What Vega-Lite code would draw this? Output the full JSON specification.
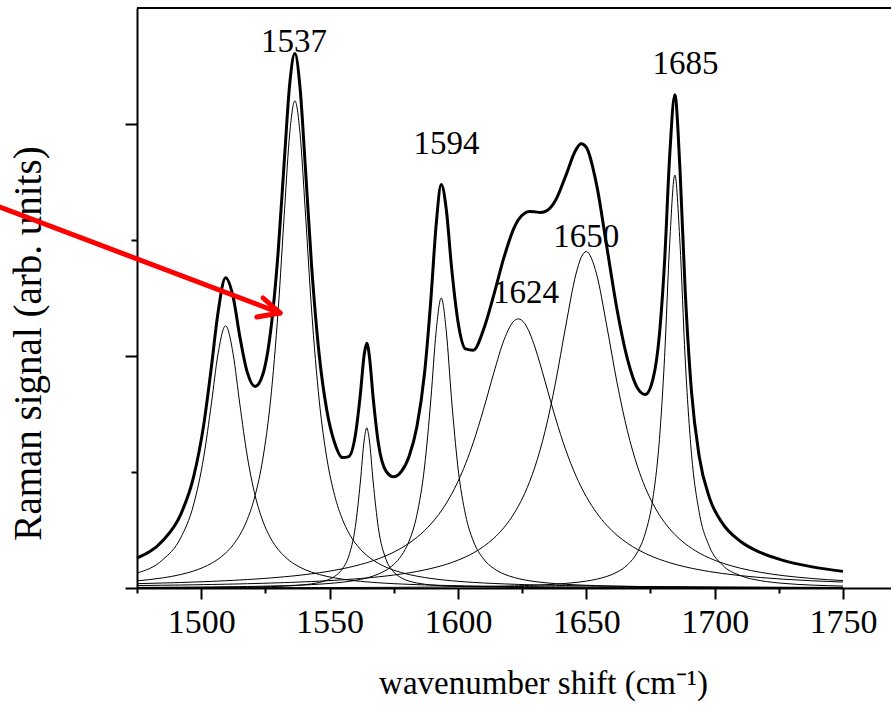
{
  "$schema": "https://vega.github.io/schema/vega-lite/v6.json",
  "width": 754,
  "height": 580,
  "autosize": {"type": "none"},
  "padding": {"left": 137, "top": 8, "right": 0, "bottom": 118},
  "background": "white",
  "config": {"view": {"stroke": null}, "font": "Liberation Serif"},
  "datasets": {
    "spec": [
      {"x": 1475, "c1": 0.1293, "c2": 0.0615, "c3": 0.0021, "c4": 0.0054, "c5": 0.0374, "c6": 0.0212, "c7": 0.0016, "t": 0.2585},
      {"x": 1485, "c1": 0.2428, "c2": 0.0872, "c3": 0.0027, "c4": 0.0064, "c5": 0.0429, "c6": 0.0238, "c7": 0.0018, "t": 0.4076},
      {"x": 1492, "c1": 0.4314, "c2": 0.116, "c3": 0.0032, "c4": 0.0073, "c5": 0.0474, "c6": 0.0259, "c7": 0.0019, "t": 0.6331},
      {"x": 1497, "c1": 0.7147, "c2": 0.1461, "c3": 0.0037, "c4": 0.0081, "c5": 0.0512, "c6": 0.0276, "c7": 0.002, "t": 0.9534},
      {"x": 1501, "c1": 1.1301, "c2": 0.1795, "c3": 0.0042, "c4": 0.0088, "c5": 0.0545, "c6": 0.0291, "c7": 0.0021, "t": 1.4083},
      {"x": 1504, "c1": 1.5932, "c2": 0.2124, "c3": 0.0046, "c4": 0.0094, "c5": 0.0572, "c6": 0.0303, "c7": 0.0022, "t": 1.9093},
      {"x": 1506.5, "c1": 2.0098, "c2": 0.2471, "c3": 0.005, "c4": 0.01, "c5": 0.0596, "c6": 0.0313, "c7": 0.0023, "t": 2.3651},
      {"x": 1509.5, "c1": 2.2602, "c2": 0.3009, "c3": 0.0056, "c4": 0.0107, "c5": 0.0627, "c6": 0.0327, "c7": 0.0024, "t": 2.6752},
      {"x": 1512.5, "c1": 2.0098, "c2": 0.3737, "c3": 0.0062, "c4": 0.0115, "c5": 0.066, "c6": 0.0341, "c7": 0.0024, "t": 2.5037},
      {"x": 1515, "c1": 1.5932, "c2": 0.4556, "c3": 0.0069, "c4": 0.0122, "c5": 0.069, "c6": 0.0354, "c7": 0.0025, "t": 2.1748},
      {"x": 1518, "c1": 1.1301, "c2": 0.5928, "c3": 0.0078, "c4": 0.0132, "c5": 0.0729, "c6": 0.037, "c7": 0.0026, "t": 1.8564},
      {"x": 1521, "c1": 0.7985, "c2": 0.7968, "c3": 0.0089, "c4": 0.0143, "c5": 0.0771, "c6": 0.0387, "c7": 0.0027, "t": 1.737},
      {"x": 1524, "c1": 0.5781, "c2": 1.1118, "c3": 0.0102, "c4": 0.0156, "c5": 0.0816, "c6": 0.0405, "c7": 0.0028, "t": 1.8406},
      {"x": 1527, "c1": 0.4314, "c2": 1.6126, "c3": 0.0119, "c4": 0.017, "c5": 0.0866, "c6": 0.0425, "c7": 0.0029, "t": 2.2049},
      {"x": 1530, "c1": 0.3316, "c2": 2.3985, "c3": 0.0141, "c4": 0.0186, "c5": 0.092, "c6": 0.0446, "c7": 0.003, "t": 2.9024},
      {"x": 1532.5, "c1": 0.2716, "c2": 3.2699, "c3": 0.0163, "c4": 0.0202, "c5": 0.0969, "c6": 0.0465, "c7": 0.0031, "t": 3.7245},
      {"x": 1534.5, "c1": 0.2342, "c2": 3.9212, "c3": 0.0185, "c4": 0.0215, "c5": 0.1011, "c6": 0.0481, "c7": 0.0032, "t": 4.3478},
      {"x": 1536.5, "c1": 0.2038, "c2": 4.2, "c3": 0.0212, "c4": 0.0231, "c5": 0.1056, "c6": 0.0498, "c7": 0.0033, "t": 4.6068},
      {"x": 1538.5, "c1": 0.1788, "c2": 3.9212, "c3": 0.0246, "c4": 0.0248, "c5": 0.1104, "c6": 0.0516, "c7": 0.0034, "t": 4.3148},
      {"x": 1540.5, "c1": 0.158, "c2": 3.2699, "c3": 0.0287, "c4": 0.0266, "c5": 0.1155, "c6": 0.0534, "c7": 0.0035, "t": 3.6556},
      {"x": 1543, "c1": 0.1367, "c2": 2.3985, "c3": 0.0356, "c4": 0.0293, "c5": 0.1224, "c6": 0.0559, "c7": 0.0036, "t": 2.782},
      {"x": 1546, "c1": 0.1163, "c2": 1.6126, "c3": 0.0477, "c4": 0.0331, "c5": 0.1315, "c6": 0.0591, "c7": 0.0038, "t": 2.0041},
      {"x": 1549, "c1": 0.1, "c2": 1.1118, "c3": 0.067, "c4": 0.0376, "c5": 0.1417, "c6": 0.0626, "c7": 0.0039, "t": 1.5246},
      {"x": 1552, "c1": 0.0869, "c2": 0.7968, "c3": 0.1003, "c4": 0.0432, "c5": 0.153, "c6": 0.0664, "c7": 0.0041, "t": 1.2507},
      {"x": 1555, "c1": 0.0762, "c2": 0.5928, "c3": 0.1649, "c4": 0.05, "c5": 0.1657, "c6": 0.0705, "c7": 0.0043, "t": 1.1244},
      {"x": 1557.5, "c1": 0.0687, "c2": 0.4751, "c3": 0.276, "c4": 0.057, "c5": 0.1775, "c6": 0.0743, "c7": 0.0045, "t": 1.1331},
      {"x": 1560, "c1": 0.0623, "c2": 0.3882, "c3": 0.5202, "c4": 0.0656, "c5": 0.1906, "c6": 0.0784, "c7": 0.0046, "t": 1.3099},
      {"x": 1562, "c1": 0.0577, "c2": 0.3344, "c3": 0.9138, "c4": 0.074, "c5": 0.2021, "c6": 0.0819, "c7": 0.0048, "t": 1.6687},
      {"x": 1563.5, "c1": 0.0546, "c2": 0.3009, "c3": 1.2758, "c4": 0.0813, "c5": 0.2114, "c6": 0.0847, "c7": 0.0049, "t": 2.0136},
      {"x": 1564.5, "c1": 0.0527, "c2": 0.2812, "c3": 1.38, "c4": 0.0868, "c5": 0.218, "c6": 0.0866, "c7": 0.005, "t": 2.1103},
      {"x": 1565.5, "c1": 0.0509, "c2": 0.2633, "c3": 1.2758, "c4": 0.0929, "c5": 0.2248, "c6": 0.0886, "c7": 0.0051, "t": 2.0014},
      {"x": 1567, "c1": 0.0483, "c2": 0.2395, "c3": 0.9138, "c4": 0.1032, "c5": 0.2357, "c6": 0.0917, "c7": 0.0052, "t": 1.6374},
      {"x": 1569, "c1": 0.0452, "c2": 0.2124, "c3": 0.5202, "c4": 0.1199, "c5": 0.2514, "c6": 0.0962, "c7": 0.0054, "t": 1.2507},
      {"x": 1572, "c1": 0.041, "c2": 0.1795, "c3": 0.2468, "c4": 0.1536, "c5": 0.278, "c6": 0.1034, "c7": 0.0057, "t": 1.008},
      {"x": 1575, "c1": 0.0374, "c2": 0.1536, "c3": 0.138, "c4": 0.203, "c5": 0.3087, "c6": 0.1115, "c7": 0.006, "t": 0.9582},
      {"x": 1578, "c1": 0.0343, "c2": 0.1328, "c3": 0.0869, "c4": 0.2796, "c5": 0.3445, "c6": 0.1206, "c7": 0.0063, "t": 1.005},
      {"x": 1581, "c1": 0.0315, "c2": 0.116, "c3": 0.0594, "c4": 0.4055, "c5": 0.3865, "c6": 0.1309, "c7": 0.0067, "t": 1.1365},
      {"x": 1584, "c1": 0.029, "c2": 0.1022, "c3": 0.0431, "c4": 0.6276, "c5": 0.436, "c6": 0.1424, "c7": 0.0071, "t": 1.3874},
      {"x": 1587, "c1": 0.0269, "c2": 0.0906, "c3": 0.0326, "c4": 1.0431, "c5": 0.4947, "c6": 0.1556, "c7": 0.0076, "t": 1.8511},
      {"x": 1589.5, "c1": 0.0252, "c2": 0.0825, "c3": 0.0265, "c4": 1.6351, "c5": 0.5521, "c6": 0.168, "c7": 0.008, "t": 2.4974},
      {"x": 1591.5, "c1": 0.024, "c2": 0.0767, "c3": 0.0228, "c4": 2.208, "c5": 0.6047, "c6": 0.1789, "c7": 0.0083, "t": 3.1234},
      {"x": 1593.5, "c1": 0.0229, "c2": 0.0715, "c3": 0.0198, "c4": 2.5, "c5": 0.6642, "c6": 0.191, "c7": 0.0087, "t": 3.4781},
      {"x": 1595.5, "c1": 0.0219, "c2": 0.0668, "c3": 0.0174, "c4": 2.208, "c5": 0.7314, "c6": 0.2042, "c7": 0.0091, "t": 3.2588},
      {"x": 1597.5, "c1": 0.0209, "c2": 0.0625, "c3": 0.0154, "c4": 1.6351, "c5": 0.8076, "c6": 0.2189, "c7": 0.0095, "t": 2.7699},
      {"x": 1600, "c1": 0.0198, "c2": 0.0578, "c3": 0.0133, "c4": 1.0431, "c5": 0.917, "c6": 0.2394, "c7": 0.0101, "t": 2.3005},
      {"x": 1603, "c1": 0.0185, "c2": 0.0528, "c3": 0.0113, "c4": 0.6276, "c5": 1.072, "c6": 0.2681, "c7": 0.0108, "t": 2.0611},
      {"x": 1606, "c1": 0.0174, "c2": 0.0483, "c3": 0.0097, "c4": 0.4055, "c5": 1.2552, "c6": 0.3019, "c7": 0.0117, "t": 2.0497},
      {"x": 1610, "c1": 0.0161, "c2": 0.0433, "c3": 0.0081, "c4": 0.25, "c5": 1.5417, "c6": 0.3575, "c7": 0.0129, "t": 2.2296},
      {"x": 1614, "c1": 0.0149, "c2": 0.039, "c3": 0.0069, "c4": 0.1679, "c5": 1.856, "c6": 0.429, "c7": 0.0144, "t": 2.5281},
      {"x": 1618, "c1": 0.0138, "c2": 0.0353, "c3": 0.0059, "c4": 0.1199, "c5": 2.1406, "c6": 0.5224, "c7": 0.0162, "t": 2.8541},
      {"x": 1622, "c1": 0.0128, "c2": 0.0321, "c3": 0.0051, "c4": 0.0898, "c5": 2.3056, "c6": 0.6467, "c7": 0.0184, "t": 3.1105},
      {"x": 1623.5, "c1": 0.0125, "c2": 0.031, "c3": 0.0048, "c4": 0.0813, "c5": 2.3199, "c6": 0.7037, "c7": 0.0193, "t": 3.1725},
      {"x": 1626, "c1": 0.012, "c2": 0.0293, "c3": 0.0045, "c4": 0.0696, "c5": 2.2805, "c6": 0.8146, "c7": 0.0209, "t": 3.2314},
      {"x": 1628, "c1": 0.0116, "c2": 0.028, "c3": 0.0042, "c4": 0.062, "c5": 2.1967, "c6": 0.9203, "c7": 0.0224, "t": 3.2452},
      {"x": 1630, "c1": 0.0112, "c2": 0.0269, "c3": 0.0039, "c4": 0.0555, "c5": 2.0769, "c6": 1.044, "c7": 0.0241, "t": 3.2425},
      {"x": 1632, "c1": 0.0108, "c2": 0.0257, "c3": 0.0037, "c4": 0.05, "c5": 1.9331, "c6": 1.1885, "c7": 0.026, "t": 3.2378},
      {"x": 1634, "c1": 0.0105, "c2": 0.0247, "c3": 0.0035, "c4": 0.0453, "c5": 1.7772, "c6": 1.3565, "c7": 0.0281, "t": 3.2458},
      {"x": 1638, "c1": 0.0098, "c2": 0.0228, "c3": 0.0031, "c4": 0.0376, "c5": 1.4661, "c6": 1.7683, "c7": 0.033, "t": 3.3407},
      {"x": 1642, "c1": 0.0093, "c2": 0.0211, "c3": 0.0028, "c4": 0.0317, "c5": 1.1909, "c6": 2.2578, "c7": 0.0395, "t": 3.5531},
      {"x": 1646, "c1": 0.0087, "c2": 0.0196, "c3": 0.0025, "c4": 0.0271, "c5": 0.9657, "c6": 2.7075, "c7": 0.048, "t": 3.7791},
      {"x": 1648, "c1": 0.0085, "c2": 0.0189, "c3": 0.0024, "c4": 0.0252, "c5": 0.8713, "c6": 2.8493, "c7": 0.0533, "t": 3.8289},
      {"x": 1650, "c1": 0.0082, "c2": 0.0183, "c3": 0.0023, "c4": 0.0235, "c5": 0.7877, "c6": 2.9, "c7": 0.0596, "t": 3.7996},
      {"x": 1654, "c1": 0.0078, "c2": 0.017, "c3": 0.0021, "c4": 0.0205, "c5": 0.6486, "c6": 2.7075, "c7": 0.0758, "t": 3.4793},
      {"x": 1658, "c1": 0.0074, "c2": 0.0159, "c3": 0.0019, "c4": 0.018, "c5": 0.5399, "c6": 2.2578, "c7": 0.0998, "t": 2.9407},
      {"x": 1662, "c1": 0.007, "c2": 0.0149, "c3": 0.0018, "c4": 0.016, "c5": 0.4544, "c6": 1.7683, "c7": 0.1369, "t": 2.3993},
      {"x": 1666, "c1": 0.0066, "c2": 0.014, "c3": 0.0016, "c4": 0.0143, "c5": 0.3865, "c6": 1.3565, "c7": 0.1989, "t": 1.9784},
      {"x": 1670, "c1": 0.0063, "c2": 0.0132, "c3": 0.0015, "c4": 0.0129, "c5": 0.3319, "c6": 1.044, "c7": 0.3128, "t": 1.7226},
      {"x": 1673, "c1": 0.0061, "c2": 0.0126, "c3": 0.0014, "c4": 0.0119, "c5": 0.2979, "c6": 0.8654, "c7": 0.4727, "t": 1.668},
      {"x": 1676, "c1": 0.0059, "c2": 0.0121, "c3": 0.0014, "c4": 0.0111, "c5": 0.2687, "c6": 0.7242, "c7": 0.7794, "t": 1.8028},
      {"x": 1678.5, "c1": 0.0057, "c2": 0.0117, "c3": 0.0013, "c4": 0.0104, "c5": 0.2473, "c6": 0.6291, "c7": 1.2816, "t": 2.1871},
      {"x": 1680.5, "c1": 0.0056, "c2": 0.0114, "c3": 0.0013, "c4": 0.01, "c5": 0.232, "c6": 0.5648, "c7": 1.9887, "t": 2.8138},
      {"x": 1682.5, "c1": 0.0054, "c2": 0.0111, "c3": 0.0012, "c4": 0.0095, "c5": 0.218, "c6": 0.5093, "c7": 2.9728, "t": 3.7273},
      {"x": 1684.5, "c1": 0.0053, "c2": 0.0108, "c3": 0.0012, "c4": 0.0091, "c5": 0.2052, "c6": 0.4611, "c7": 3.56, "t": 4.2527},
      {"x": 1686.5, "c1": 0.0052, "c2": 0.0105, "c3": 0.0011, "c4": 0.0087, "c5": 0.1934, "c6": 0.419, "c7": 2.9728, "t": 3.6107},
      {"x": 1688.5, "c1": 0.0051, "c2": 0.0102, "c3": 0.0011, "c4": 0.0084, "c5": 0.1826, "c6": 0.3822, "c7": 1.9887, "t": 2.5783},
      {"x": 1691, "c1": 0.0049, "c2": 0.0099, "c3": 0.0011, "c4": 0.0079, "c5": 0.1703, "c6": 0.3423, "c7": 1.1534, "t": 1.6898},
      {"x": 1694, "c1": 0.0048, "c2": 0.0095, "c3": 0.001, "c4": 0.0075, "c5": 0.1571, "c6": 0.3019, "c7": 0.6524, "t": 1.1342},
      {"x": 1698, "c1": 0.0046, "c2": 0.009, "c3": 0.0009, "c4": 0.0069, "c5": 0.1417, "c6": 0.258, "c7": 0.356, "t": 0.7771},
      {"x": 1703, "c1": 0.0044, "c2": 0.0085, "c3": 0.0009, "c4": 0.0063, "c5": 0.1253, "c6": 0.2151, "c7": 0.1989, "t": 0.5594},
      {"x": 1710, "c1": 0.0041, "c2": 0.0078, "c3": 0.0008, "c4": 0.0056, "c5": 0.1068, "c6": 0.1706, "c7": 0.1075, "t": 0.4032},
      {"x": 1718, "c1": 0.0038, "c2": 0.0072, "c3": 0.0007, "c4": 0.0049, "c5": 0.0901, "c6": 0.1346, "c7": 0.0631, "t": 0.3044},
      {"x": 1727, "c1": 0.0034, "c2": 0.0065, "c3": 0.0006, "c4": 0.0042, "c5": 0.0756, "c6": 0.106, "c7": 0.0395, "t": 0.2358},
      {"x": 1738, "c1": 0.0031, "c2": 0.0058, "c3": 0.0006, "c4": 0.0036, "c5": 0.0622, "c6": 0.0819, "c7": 0.025, "t": 0.1822},
      {"x": 1750, "c1": 0.0028, "c2": 0.0052, "c3": 0.0005, "c4": 0.0031, "c5": 0.0512, "c6": 0.0638, "c7": 0.0167, "t": 0.1433}
    ],
    "peaks": [
      {"label": "1537", "x": 1536.2, "y": 4.618},
      {"label": "1594", "x": 1595.6, "y": 3.741},
      {"label": "1685", "x": 1688.7, "y": 4.431},
      {"label": "1650", "x": 1650.0, "y": 2.942},
      {"label": "1624", "x": 1626.5, "y": 2.459}
    ],
    "arrow": [
      {"part": "shaft", "x": 1421.6, "y": 3.284, "x2": 1530.7, "y2": 2.371},
      {"part": "barb1", "x": 1530.7, "y": 2.371, "x2": 1524.1, "y2": 2.5},
      {"part": "barb2", "x": 1530.7, "y": 2.371, "x2": 1521.7, "y2": 2.336}
    ]
  },
  "layer": [
    {
      "data": {"name": "spec"},
      "transform": [{"fold": ["c1", "c2", "c3", "c4", "c5", "c6", "c7"], "as": ["comp", "y"]}],
      "mark": {"type": "line", "interpolate": "monotone", "color": "black", "strokeWidth": 1},
      "encoding": {
        "x": {
          "field": "x", "type": "quantitative",
          "scale": {"domain": [1475, 1768.7], "nice": false, "zero": false},
          "axis": {
            "title": "wavenumber shift (cm⁻¹)",
            "values": [1475, 1500, 1525, 1550, 1575, 1600, 1625, 1650, 1675, 1700, 1725, 1750],
            "format": "d",
            "labelExpr": "datum.value % 50 === 0 ? datum.label : ''",
            "tickSize": {"condition": {"test": "datum.value % 50 === 0", "value": 11}, "value": 5},
            "tickWidth": 2, "tickColor": "black",
            "domainWidth": 2, "domainColor": "black",
            "grid": false,
            "labelFont": "Liberation Serif", "labelFontSize": 34, "labelColor": "black",
            "labelBaseline": "alphabetic", "labelPadding": 33,
            "labelOverlap": false, "labelFlush": false,
            "titleFont": "Liberation Serif", "titleFontSize": 33, "titleFontWeight": "normal", "titleColor": "black",
            "titleX": 406, "titleY": 105, "titleBaseline": "alphabetic", "titleAlign": "center"
          }
        },
        "y": {
          "field": "y", "type": "quantitative",
          "scale": {"domain": [0, 5], "nice": false},
          "axis": {
            "title": "Raman signal (arb. units)",
            "values": [0, 1, 2, 3, 4],
            "labels": false,
            "tickSize": {"condition": {"test": "datum.value % 2 === 0", "value": 12}, "value": 6},
            "tickWidth": 2, "tickColor": "black",
            "domainWidth": 2, "domainColor": "black",
            "grid": false,
            "titleFont": "Liberation Serif", "titleFontSize": 39, "titleFontWeight": "normal", "titleColor": "black",
            "titleX": -97, "titleY": 335, "titleBaseline": "alphabetic", "titleAlign": "center", "titleAngle": 270
          }
        },
        "detail": {"field": "comp"}
      }
    },
    {
      "data": {"name": "spec"},
      "mark": {"type": "line", "interpolate": "monotone", "color": "black", "strokeWidth": 3},
      "encoding": {
        "x": {"field": "x", "type": "quantitative"},
        "y": {"field": "t", "type": "quantitative"}
      }
    },
    {
      "data": {"values": [{}]},
      "mark": {"type": "rule", "color": "black", "strokeWidth": 2},
      "encoding": {"y": {"datum": 5}}
    },
    {
      "data": {"name": "peaks"},
      "mark": {"type": "text", "font": "Liberation Serif", "fontSize": 33, "color": "black", "align": "center", "baseline": "alphabetic"},
      "encoding": {
        "x": {"field": "x", "type": "quantitative"},
        "y": {"field": "y", "type": "quantitative"},
        "text": {"field": "label"}
      }
    },
    {
      "data": {"name": "arrow"},
      "mark": {"type": "rule", "color": "#ff0000", "strokeWidth": 5, "strokeCap": "round"},
      "encoding": {
        "x": {"field": "x", "type": "quantitative"},
        "y": {"field": "y", "type": "quantitative"},
        "x2": {"field": "x2"},
        "y2": {"field": "y2"}
      }
    }
  ]
}
